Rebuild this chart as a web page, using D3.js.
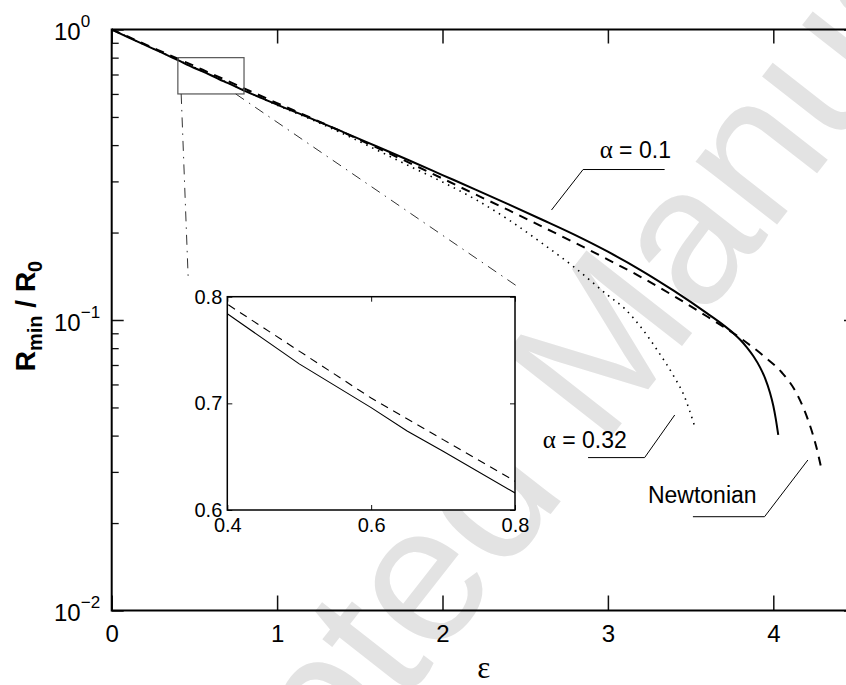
<!DOCTYPE html>
<html>
<head>
<meta charset="utf-8">
<script src="https://cdn.jsdelivr.net/npm/d3@7"></script>
<style>
  body { margin: 0; background: #fff; }
  svg { display: block; }
</style>
</head>
<body>
<svg id="chart" width="846" height="685"></svg>
<script>
// ---- data: minimum radius R_min/R_0 versus ε ----
const epsAlpha01 = [0, 0.1, 0.2, 0.3, 0.4, 0.5, 0.6, 0.65, 0.7, 0.8, 0.9, 1.0, 1.2, 1.4, 1.6, 1.8, 2.0, 2.2, 2.4, 2.6, 2.8, 3.0, 3.2, 3.4, 3.6, 3.7, 3.76, 3.8, 3.84, 3.88, 3.92, 3.95, 3.98, 4.0, 4.015, 4.03];
const rAlpha01   = [1, 0.940, 0.885, 0.834, 0.784, 0.737, 0.696, 0.674, 0.655, 0.616, 0.583, 0.551, 0.4955, 0.4436, 0.3963, 0.354, 0.3155, 0.2812, 0.250, 0.2218, 0.1963, 0.1718, 0.1483, 0.1259, 0.1054, 0.0959, 0.0899, 0.0855, 0.0805, 0.0750, 0.0687, 0.0631, 0.0562, 0.0507, 0.0457, 0.0402];

const epsNewtonian = [0, 0.1, 0.2, 0.3, 0.4, 0.5, 0.6, 0.7, 0.8, 0.9, 1.0, 1.2, 1.4, 1.6, 1.8, 2.0, 2.2, 2.4, 2.6, 2.8, 3.0, 3.2, 3.4, 3.6, 3.8, 3.95, 4.05, 4.14, 4.21, 4.26, 4.29];
const rNewtonian   = [1, 0.944, 0.890, 0.840, 0.793, 0.749, 0.705, 0.666, 0.627, 0.5916, 0.558, 0.4977, 0.4426, 0.3926, 0.3475, 0.3069, 0.2704, 0.2388, 0.2099, 0.1845, 0.1614, 0.1406, 0.1208, 0.1028, 0.0867, 0.0745, 0.0661, 0.056, 0.0453, 0.0366, 0.0309];

const epsAlpha032 = [0, 0.2, 0.4, 0.6, 0.8, 1.0, 1.2, 1.4, 1.6, 1.8, 2.0, 2.2, 2.4, 2.6, 2.8, 3.0, 3.1, 3.2, 3.3, 3.4, 3.46, 3.525];
const rAlpha032   = [1, 0.886, 0.786, 0.697, 0.618, 0.549, 0.492, 0.4375, 0.3855, 0.3388, 0.2985, 0.260, 0.2213, 0.1841, 0.1514, 0.1216, 0.1096, 0.0944, 0.0785, 0.0638, 0.055, 0.043];

// axis ticks and labels
const xTicks = [0, 1, 2, 3, 4];
const yDecades = [1, 0.1, 0.01];
const yExponents = ["0", "\u22121", "\u22122"];
const insetXTicks = [0.4, 0.6, 0.8];
const insetYTicks = [0.6, 0.7, 0.8];

// magnified window shown in the inset
const zoomEps = [0.4, 0.8];
const zoomR = [0.6, 0.8];
// dash-dot guides from the window towards the inset: [ε, R] start and end
const guideStarts = [[0.42, 0.6], [0.75, 0.6]];
const guideEnds = [[0.463, 0.137], [2.457, 0.130]];

// curve labels: text anchor, underline start, elbow, pointer tip (data coords)
const curveNotes = [
  { parts: ["\u03b1", " = 0.1"], text: [2.95, 0.3612], under: [2.85, 0.3296], elbow: [3.343, 0.3296], tip: [2.659, 0.2391], elbowAtStart: true },
  { parts: ["\u03b1", " = 0.32"], text: [2.606, 0.03626], under: [2.88, 0.0336], elbow: [3.222, 0.0336], tip: [3.404, 0.0471], elbowAtStart: false },
  { parts: ["", "Newtonian"], text: [3.242, 0.02339], under: [3.514, 0.02103], elbow: [3.947, 0.02103], tip: [4.209, 0.03296], elbowAtStart: false }
];

// ---- layout ----
const svg = d3.select("#chart");
const sans = "'Liberation Sans', Arial, Helvetica, sans-serif";
const serif = "'Liberation Serif', 'Times New Roman', serif";
const plot = { left: 111.7, right: 856, top: 29.5, bottom: 610.5 };
const inset = { left: 227.3, right: 515, top: 296.7, bottom: 510 };

svg.append("rect").attr("width", 846).attr("height", 685).attr("fill", "#fff");

// journal watermark behind the figure
svg.append("text")
  .attr("transform", "translate(68,1132) rotate(-52)")
  .attr("font-family", sans)
  .attr("font-size", 195)
  .attr("fill", "#e3e3e3")
  .text("Accepted Manuscript");

const x = d3.scaleLinear().domain([0, 4.5]).range([plot.left, plot.right]);
const y = d3.scaleLog().domain([0.01, 1]).range([plot.bottom, plot.top]);

const zip = (a, b) => a.map((v, i) => [v, b[i]]);
const seriesA01 = zip(epsAlpha01, rAlpha01);
const seriesNewt = zip(epsNewtonian, rNewtonian);
const seriesA032 = zip(epsAlpha032, rAlpha032);

const line = d3.line().x(d => x(d[0])).y(d => y(d[1])).curve(d3.curveMonotoneX);

// ---- axes (ticks point inward) ----
function tidy(g, width) {
  g.select(".domain").remove();
  g.selectAll(".tick line").attr("stroke", "#111").attr("stroke-width", width);
}

const minorY = [];
[0.01, 0.1].forEach(d => { for (let k = 2; k <= 9; k++) minorY.push(d * k); });

svg.append("g").attr("transform", `translate(0,${plot.bottom})`)
  .call(d3.axisBottom(x).tickValues(xTicks).tickSize(-15).tickPadding(14).tickFormat(d3.format("d")))
  .call(g => tidy(g, 1.5))
  .call(g => g.selectAll("text").attr("font-family", sans).attr("font-size", 24).attr("fill", "#000"));

svg.append("g").attr("transform", `translate(0,${plot.top})`)
  .call(d3.axisTop(x).tickValues(xTicks).tickSize(-14).tickFormat(""))
  .call(g => tidy(g, 1.5));

[[plot.left, d3.axisLeft], [plot.right, d3.axisRight]].forEach(([px, ax]) => {
  svg.append("g").attr("transform", `translate(${px},0)`)
    .call(ax(y).tickValues(yDecades).tickSize(-12).tickFormat(""))
    .call(g => tidy(g, 1.5));
  svg.append("g").attr("transform", `translate(${px},0)`)
    .call(ax(y).tickValues(minorY).tickSize(-7).tickFormat(""))
    .call(g => tidy(g, 1.3));
});

// decade labels 10^n
const yLabels = svg.append("g").attr("font-family", sans).attr("fill", "#000");
yDecades.forEach((v, i) => {
  const t = yLabels.append("text").attr("x", 54).attr("y", y(v) + 10.5).attr("font-size", 24);
  t.append("tspan").text("10");
  t.append("tspan").attr("font-size", 17).attr("dy", -13).text(yExponents[i]);
});

// frame
svg.append("rect")
  .attr("x", plot.left).attr("y", plot.top)
  .attr("width", plot.right - plot.left).attr("height", plot.bottom - plot.top)
  .attr("fill", "none").attr("stroke", "#000").attr("stroke-width", 2);

// axis titles
svg.append("text")
  .attr("x", (plot.left + plot.right) / 2).attr("y", 678)
  .attr("text-anchor", "middle")
  .attr("font-family", serif).attr("font-size", 31)
  .text("\u03b5");

const yTitle = svg.append("text")
  .attr("transform", "translate(35,316) rotate(-90)")
  .attr("text-anchor", "middle")
  .attr("font-family", sans).attr("font-weight", "bold").attr("font-size", 28);
yTitle.append("tspan").text("R");
yTitle.append("tspan").attr("font-size", 20).attr("dy", 7).text("min");
yTitle.append("tspan").attr("dy", -7).text(" / R");
yTitle.append("tspan").attr("font-size", 20).attr("dy", 7).text("0");

// ---- curves ----
const curves = svg.append("g").attr("fill", "none").attr("stroke", "#000");
curves.append("path").datum(seriesA032).attr("d", line)
  .attr("stroke-width", 1.6).attr("stroke-dasharray", "1.5,5");
curves.append("path").datum(seriesNewt).attr("d", line)
  .attr("stroke-width", 2).attr("stroke-dasharray", "9,7");
curves.append("path").datum(seriesA01).attr("d", line)
  .attr("stroke-width", 2);

// magnified window and guides
svg.append("rect")
  .attr("x", x(zoomEps[0])).attr("y", y(zoomR[1]))
  .attr("width", x(zoomEps[1]) - x(zoomEps[0])).attr("height", y(zoomR[0]) - y(zoomR[1]))
  .attr("fill", "none").attr("stroke", "#555").attr("stroke-width", 1.2);

guideStarts.forEach((s, i) => {
  const e = guideEnds[i];
  svg.append("line")
    .attr("x1", x(s[0])).attr("y1", y(s[1])).attr("x2", x(e[0])).attr("y2", y(e[1]))
    .attr("stroke", "#333").attr("stroke-width", 1).attr("stroke-dasharray", "10,6,1.5,6");
});

// curve labels with pointer lines
curveNotes.forEach(n => {
  const t = svg.append("text")
    .attr("x", x(n.text[0])).attr("y", y(n.text[1]))
    .attr("font-family", sans).attr("font-size", 23);
  if (n.parts[0]) t.append("tspan").attr("font-family", serif).attr("font-size", 25).text(n.parts[0]);
  t.append("tspan").text(n.parts[1]);
  const pts = n.elbowAtStart
    ? [n.tip, n.under, n.elbow]
    : [n.under, n.elbow, n.tip];
  svg.append("path")
    .attr("d", d3.line().x(d => x(d[0])).y(d => y(d[1]))(pts))
    .attr("fill", "none").attr("stroke", "#000").attr("stroke-width", 1);
});

// ---- inset ----
const xi = d3.scaleLinear().domain(zoomEps).range([inset.left, inset.right]);
const yi = d3.scaleLinear().domain(zoomR).range([inset.bottom, inset.top]);
const insetLine = d3.line().x(d => xi(d[0])).y(d => yi(d[1]));

svg.append("defs").append("clipPath").attr("id", "insetClip")
  .append("rect").attr("x", inset.left).attr("y", inset.top)
  .attr("width", inset.right - inset.left).attr("height", inset.bottom - inset.top);

svg.append("rect")
  .attr("x", inset.left).attr("y", inset.top)
  .attr("width", inset.right - inset.left).attr("height", inset.bottom - inset.top)
  .attr("fill", "#fff");

const ic = svg.append("g").attr("clip-path", "url(#insetClip)").attr("fill", "none").attr("stroke", "#000");
ic.append("path").datum(seriesNewt).attr("d", insetLine).attr("stroke-width", 1.1).attr("stroke-dasharray", "8,6");
ic.append("path").datum(seriesA01).attr("d", insetLine).attr("stroke-width", 1.1);

svg.append("g").attr("transform", `translate(0,${inset.bottom})`)
  .call(d3.axisBottom(xi).tickValues(insetXTicks).tickSize(-5).tickPadding(8).tickFormat(d3.format(".1f")))
  .call(g => tidy(g, 1))
  .call(g => g.selectAll("text").attr("font-family", sans).attr("font-size", 20).attr("fill", "#000"));
svg.append("g").attr("transform", `translate(0,${inset.top})`)
  .call(d3.axisTop(xi).tickValues(insetXTicks).tickSize(-5).tickFormat(""))
  .call(g => tidy(g, 1));
svg.append("g").attr("transform", `translate(${inset.left},0)`)
  .call(d3.axisLeft(yi).tickValues(insetYTicks).tickSize(-5).tickPadding(5).tickFormat(d3.format(".1f")))
  .call(g => tidy(g, 1))
  .call(g => g.selectAll("text").attr("font-family", sans).attr("font-size", 20).attr("fill", "#000"));
svg.append("g").attr("transform", `translate(${inset.right},0)`)
  .call(d3.axisRight(yi).tickValues(insetYTicks).tickSize(-5).tickFormat(""))
  .call(g => tidy(g, 1));

svg.append("rect")
  .attr("x", inset.left).attr("y", inset.top)
  .attr("width", inset.right - inset.left).attr("height", inset.bottom - inset.top)
  .attr("fill", "none").attr("stroke", "#000").attr("stroke-width", 1.5);
</script>
</body>
</html>
